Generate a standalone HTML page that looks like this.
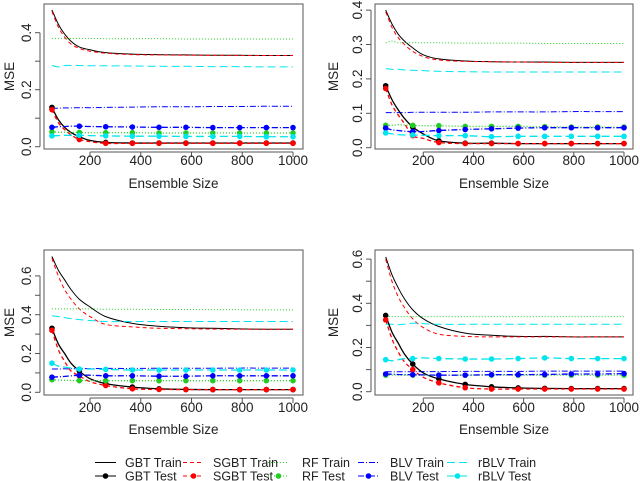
<!DOCTYPE html>
<html><head><meta charset="utf-8"><style>
html,body{margin:0;padding:0;background:#fff}
svg{display:block;font-family:"Liberation Sans",Arial,sans-serif}
</style></head><body>
<svg id="c" width="640" height="481" viewBox="0 0 640 481"></svg>
<script>
const xs = [50,75,100,125,158,200,262,367,472,578,684,790,895,1000];
const markerIdx = [0,4,6,7,8,9,10,11,12,13];
const seriesNames = ["GBT","SGBT","RF","BLV","rBLV"];
const p1GbtTrain = [0.48,0.43,0.395,0.37,0.35,0.34,0.33,0.325,0.323,0.322,0.321,0.321,0.32,0.32];
const p1SgbtTrain = [0.475,0.42,0.385,0.36,0.345,0.335,0.328,0.323,0.322,0.321,0.321,0.32,0.32,0.32];
const p1RfTrain = [0.38,0.38,0.38,0.38,0.38,0.38,0.379,0.379,0.379,0.378,0.378,0.378,0.378,0.378];
const p1BlvTrain = [0.135,0.135,0.136,0.136,0.137,0.137,0.138,0.139,0.14,0.14,0.141,0.141,0.142,0.142];
const p1RblvTrain = [0.285,0.28,0.285,0.285,0.285,0.284,0.284,0.283,0.282,0.282,0.281,0.281,0.28,0.28];
const p1GbtTest = [0.138,0.095,0.068,0.05,0.035,0.022,0.015,0.013,0.013,0.013,0.013,0.013,0.013,0.013];
const p1SgbtTest = [0.13,0.085,0.06,0.042,0.025,0.018,0.012,0.012,0.012,0.012,0.012,0.012,0.012,0.012];
const p1RfTest = [0.052,0.051,0.05,0.05,0.05,0.049,0.049,0.049,0.048,0.048,0.048,0.048,0.048,0.048];
const p1BlvTest = [0.068,0.07,0.071,0.072,0.072,0.071,0.07,0.069,0.068,0.068,0.067,0.067,0.067,0.067];
const p1RblvTest = [0.038,0.039,0.04,0.04,0.04,0.039,0.038,0.037,0.037,0.036,0.036,0.036,0.035,0.035];
const p2GbtTrain = [0.40,0.36,0.33,0.31,0.29,0.27,0.258,0.252,0.25,0.249,0.249,0.248,0.248,0.248];
const p2SgbtTrain = [0.395,0.35,0.32,0.30,0.28,0.265,0.255,0.251,0.25,0.249,0.248,0.248,0.248,0.248];
const p2RfTrain = [0.305,0.31,0.305,0.305,0.305,0.305,0.305,0.304,0.304,0.304,0.303,0.303,0.303,0.303];
const p2BlvTrain = [0.102,0.102,0.102,0.102,0.103,0.103,0.103,0.103,0.104,0.104,0.104,0.105,0.105,0.105];
const p2RblvTrain = [0.23,0.228,0.228,0.226,0.225,0.224,0.222,0.221,0.22,0.22,0.22,0.22,0.22,0.22];
const p2GbtTest = [0.18,0.14,0.11,0.085,0.06,0.04,0.02,0.013,0.013,0.012,0.012,0.012,0.012,0.012];
const p2SgbtTest = [0.172,0.125,0.095,0.07,0.035,0.027,0.015,0.012,0.012,0.012,0.012,0.012,0.012,0.012];
const p2RfTest = [0.065,0.065,0.067,0.066,0.065,0.064,0.064,0.062,0.062,0.062,0.061,0.06,0.06,0.06];
const p2BlvTest = [0.057,0.052,0.05,0.048,0.047,0.047,0.05,0.053,0.055,0.057,0.058,0.058,0.058,0.058];
const p2RblvTest = [0.043,0.04,0.038,0.037,0.037,0.036,0.035,0.035,0.032,0.033,0.033,0.033,0.033,0.033];
const p3GbtTrain = [0.70,0.63,0.58,0.53,0.48,0.44,0.39,0.355,0.34,0.333,0.33,0.327,0.325,0.325];
const p3SgbtTrain = [0.69,0.60,0.53,0.48,0.43,0.39,0.35,0.337,0.33,0.328,0.326,0.325,0.325,0.325];
const p3RfTrain = [0.43,0.43,0.43,0.43,0.43,0.43,0.428,0.428,0.427,0.427,0.426,0.426,0.425,0.425];
const p3BlvTrain = [0.12,0.12,0.121,0.121,0.122,0.122,0.123,0.123,0.124,0.124,0.124,0.125,0.125,0.125];
const p3RblvTrain = [0.395,0.39,0.385,0.38,0.375,0.37,0.365,0.365,0.365,0.365,0.365,0.365,0.365,0.365];
const p3GbtTest = [0.33,0.25,0.2,0.15,0.11,0.07,0.045,0.027,0.018,0.015,0.014,0.014,0.014,0.014];
const p3SgbtTest = [0.32,0.22,0.16,0.11,0.085,0.055,0.035,0.018,0.015,0.014,0.014,0.014,0.014,0.014];
const p3RfTest = [0.065,0.063,0.062,0.061,0.06,0.06,0.06,0.06,0.06,0.06,0.06,0.06,0.06,0.06];
const p3BlvTest = [0.078,0.08,0.082,0.085,0.088,0.088,0.085,0.085,0.083,0.083,0.085,0.085,0.085,0.085];
const p3RblvTest = [0.15,0.135,0.13,0.125,0.12,0.12,0.118,0.115,0.115,0.115,0.115,0.115,0.115,0.115];
const p4GbtTrain = [0.61,0.53,0.47,0.42,0.37,0.33,0.295,0.265,0.255,0.25,0.25,0.248,0.248,0.248];
const p4SgbtTrain = [0.60,0.50,0.43,0.38,0.33,0.29,0.26,0.25,0.248,0.248,0.248,0.248,0.248,0.248];
const p4RfTrain = [0.34,0.34,0.34,0.34,0.34,0.34,0.34,0.34,0.34,0.34,0.34,0.34,0.34,0.34];
const p4BlvTrain = [0.09,0.09,0.09,0.09,0.091,0.091,0.091,0.092,0.092,0.092,0.093,0.093,0.093,0.093];
const p4RblvTrain = [0.305,0.305,0.303,0.306,0.31,0.308,0.305,0.305,0.305,0.305,0.305,0.305,0.305,0.305];
const p4GbtTest = [0.345,0.27,0.22,0.17,0.125,0.085,0.058,0.033,0.022,0.017,0.015,0.014,0.014,0.014];
const p4SgbtTest = [0.325,0.24,0.18,0.135,0.1,0.065,0.04,0.018,0.012,0.012,0.012,0.012,0.012,0.012];
const p4RfTest = [0.075,0.075,0.075,0.075,0.075,0.075,0.075,0.075,0.075,0.075,0.075,0.075,0.075,0.075];
const p4BlvTest = [0.08,0.079,0.078,0.077,0.077,0.076,0.075,0.075,0.077,0.077,0.078,0.08,0.08,0.082];
const p4RblvTest = [0.145,0.14,0.145,0.15,0.15,0.153,0.15,0.148,0.148,0.15,0.153,0.15,0.15,0.15];
const xTicks = [200,400,600,800,1000];

const NS="http://www.w3.org/2000/svg";
const svg=document.getElementById('c');
function mk(tag,attrs,parent,txt){const e=document.createElementNS(NS,tag);for(const k in attrs)e.setAttribute(k,attrs[k]);if(txt!==undefined)e.textContent=txt;(parent||svg).appendChild(e);return e;}
function smoothPath(pts){
  let d="M"+pts[0][0].toFixed(1)+","+pts[0][1].toFixed(1);
  for(let i=0;i<pts.length-1;i++){
    const p0=pts[Math.max(0,i-1)],p1=pts[i],p2=pts[i+1],p3=pts[Math.min(pts.length-1,i+2)];
    const c1x=p1[0]+(p2[0]-p0[0])/6,c1y=p1[1]+(p2[1]-p0[1])/6;
    const c2x=p2[0]-(p3[0]-p1[0])/6,c2y=p2[1]-(p3[1]-p1[1])/6;
    d+=` C${c1x.toFixed(1)},${c1y.toFixed(1)} ${c2x.toFixed(1)},${c2y.toFixed(1)} ${p2[0].toFixed(1)},${p2[1].toFixed(1)}`;
  }
  return d;
}
const styles={
 GBT:{c:"#000",d:""},
 SGBT:{c:"#ff0000",d:"4,3"},
 RF:{c:"#22cc22",d:"1,2"},
 BLV:{c:"#0000ff",d:"6,2,1,2"},
 rBLV:{c:"#00e5ee",d:"8,4"}
};
const panels=[
 {name:"top-left",L:44,R:303,T:4,B:149,x200:90,x1000:293,y0:146.7,ppu:285,ymax:0.4,ticks:[0,0.1,0.2,0.3,0.4],labels:[0,0.2,0.4],lblY:165,titleY:188,mseX:14,
  train:[p1GbtTrain,p1SgbtTrain,p1RfTrain,p1BlvTrain,p1RblvTrain],test:[p1GbtTest,p1SgbtTest,p1RfTest,p1BlvTest,p1RblvTest]},
 {name:"top-right",L:375,R:633,T:4,B:149,x200:423.3,x1000:624,y0:147.7,ppu:344,ymax:0.4,ticks:[0,0.1,0.2,0.3,0.4],labels:[0,0.1,0.2,0.3,0.4],lblY:165,titleY:188,mseX:338,
  train:[p2GbtTrain,p2SgbtTrain,p2RfTrain,p2BlvTrain,p2RblvTrain],test:[p2GbtTest,p2SgbtTest,p2RfTest,p2BlvTest,p2RblvTest]},
 {name:"bottom-left",L:44,R:303,T:250,B:395,x200:90,x1000:293,y0:392.3,ppu:194,ymax:0.6,ticks:[0,0.1,0.2,0.3,0.4,0.5,0.6],labels:[0,0.2,0.4,0.6],lblY:412,titleY:434,mseX:14,
  train:[p3GbtTrain,p3SgbtTrain,p3RfTrain,p3BlvTrain,p3RblvTrain],test:[p3GbtTest,p3SgbtTest,p3RfTest,p3BlvTest,p3RblvTest]},
 {name:"bottom-right",L:375,R:633,T:250,B:395,x200:423.3,x1000:624,y0:391.7,ppu:221,ymax:0.6,ticks:[0,0.1,0.2,0.3,0.4,0.5,0.6],labels:[0,0.2,0.4,0.6],lblY:412,titleY:434,mseX:338,
  train:[p4GbtTrain,p4SgbtTrain,p4RfTrain,p4BlvTrain,p4RblvTrain],test:[p4GbtTest,p4SgbtTest,p4RfTest,p4BlvTest,p4RblvTest]}
];
panels.forEach(p=>{
  const g=mk('g',{});
  
  
  const X=v=>p.x200+(v-200)*(p.x1000-p.x200)/800;
  const Y=v=>p.y0-v*p.ppu;
  const box=mk('rect',{x:p.L,y:p.T,width:p.R-p.L,height:p.B-p.T,fill:"none",stroke:"#555",'stroke-width':1},g);
  
  
  const ax=p.L-4;
  const ya=mk('g',{},g);
  
  
  mk('line',{x1:ax,x2:ax,y1:Y(0),y2:Y(p.ymax),stroke:"#555"},ya);
  p.ticks.forEach(t=>{mk('line',{x1:ax,x2:ax-5,y1:Y(t),y2:Y(t),stroke:"#555"},ya);});
  p.labels.forEach(t=>{const yy=Y(t);const tx=mk('text',{x:ax-9,y:yy,transform:`rotate(-90 ${ax-9} ${yy})`,'text-anchor':'middle','font-size':13.5,fill:"#222"},ya,t.toFixed(1));
    
    });
  const mt=mk('text',{x:p.mseX,y:(p.T+p.B)/2,transform:`rotate(-90 ${p.mseX} ${(p.T+p.B)/2})`,'text-anchor':'middle','font-size':13.5,fill:"#222"},g,"MSE");
  
  
  const ay=p.B+3;
  const xa=mk('g',{},g);
  
  
  mk('line',{x1:X(200),x2:X(1000),y1:ay,y2:ay,stroke:"#555"},xa);
  xTicks.forEach(t=>{mk('line',{x1:X(t),x2:X(t),y1:ay,y2:ay+5,stroke:"#555"},xa);
    const tx=mk('text',{x:X(t),y:p.lblY,'text-anchor':'middle','font-size':13.5,fill:"#222"},xa,String(t));
    
    });
  const xt=mk('text',{x:(p.L+p.R)/2,y:p.titleY,'text-anchor':'middle','font-size':13.5,fill:"#222"},g,"Ensemble Size");
  
  
  const drawLine=(vals,s,w)=>mk('path',{d:smoothPath(vals.map((v,i)=>[X(xs[i]),Y(v)])),fill:"none",stroke:s.c,'stroke-width':w,'stroke-dasharray':s.d},g);
  seriesNames.forEach((n,k)=>{
    const l=drawLine(p.train[k],styles[n],1);
    
    
  });
  seriesNames.forEach((n,k)=>{
    const l=drawLine(p.test[k],styles[n],1.3);
    
    
    markerIdx.forEach(i=>{
      const c=mk('circle',{cx:X(xs[i]),cy:Y(p.test[k][i]),r:2.8,fill:styles[n].c},g);
      
      
    });
  });
});
const leg=mk('g',{});


const legPos=[[95,125],[183,213],[268,302],[358,390],[447,478]];
seriesNames.forEach((n,k)=>{
  const s=styles[n];const [lx,tx]=legPos[k];
  [["Train",462.5,false],["Test",476,true]].forEach(([kind,yy,pt])=>{
    const e=mk('g',{},leg);
    
    
    mk('line',{x1:lx,x2:lx+21,y1:yy,y2:yy,stroke:s.c,'stroke-dasharray':s.d,'stroke-width':1},e);
    if(pt) mk('circle',{cx:lx+10.5,cy:yy,r:2.8,fill:s.c},e);
    mk('text',{x:tx,y:yy+4.5,'font-size':12.5,fill:"#222"},e,n+" "+kind);
  });
});
</script>
</body></html>
